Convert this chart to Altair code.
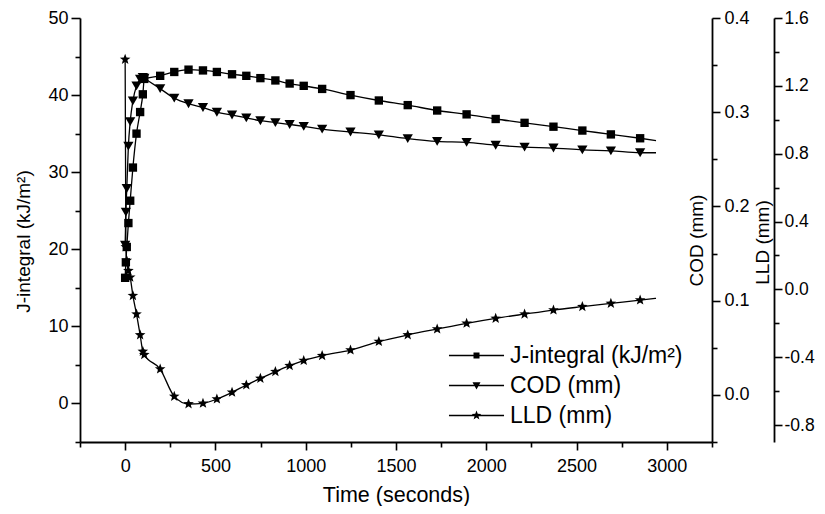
import math
import altair as alt
import pandas as pd

# ---------------- data ----------------
time_s = [0, 4, 9, 18, 28, 43, 63, 83, 98, 106, 194, 272, 351, 431, 508, 592, 671,
          749, 832, 911, 989, 1091, 1248, 1405, 1565, 1728, 1891, 2052, 2212,
          2372, 2532, 2690, 2852, 2940]
j_integral = [16.3, 18.3, 20.3, 23.4, 26.3, 30.6, 35.0, 37.8, 40.1, 42.1, 42.5,
              43.0, 43.3, 43.2, 43.0, 42.7, 42.5, 42.2, 41.9, 41.5, 41.2, 40.8,
              40.0, 39.3, 38.7, 38.0, 37.5, 36.9, 36.4, 35.9, 35.4, 34.9, 34.4, 34.1]
cod_mm = [0.159, 0.194, 0.219, 0.264, 0.290, 0.312, 0.328, 0.335, 0.337, 0.336,
          0.325, 0.315, 0.309, 0.305, 0.300, 0.297, 0.294, 0.291, 0.289, 0.287,
          0.285, 0.282, 0.279, 0.276, 0.272, 0.269, 0.268, 0.265, 0.263, 0.262,
          0.260, 0.259, 0.257, 0.257]
lld_mm = [1.356, 0.25, 0.17, 0.11, 0.071, -0.037, -0.146, -0.269, -0.366, -0.385,
          -0.470, -0.631, -0.676, -0.672, -0.647, -0.607, -0.564, -0.525, -0.485,
          -0.450, -0.420, -0.391, -0.358, -0.308, -0.269, -0.234, -0.200, -0.171,
          -0.146, -0.122, -0.102, -0.083, -0.063, -0.053]
series_names = ["J-integral (kJ/m²)", "COD (mm)", "LLD (mm)"]

x_ticks = [-250, 0, 250, 500, 750, 1000, 1250, 1500, 1750, 2000, 2250, 2500,
           2750, 3000, 3250]
j_ticks = [-5, 0, 5, 10, 15, 20, 25, 30, 35, 40, 45, 50]
cod_ticks = [-0.05, 0.0, 0.05, 0.1, 0.15, 0.2, 0.25, 0.3, 0.35, 0.4]
lld_ticks = [-0.8, -0.6, -0.4, -0.2, 0.0, 0.2, 0.4, 0.6, 0.8, 1.0, 1.2, 1.4, 1.6]

# ---------------- styling helpers ----------------
FONT = "Liberation Sans"


def star_path(ro, ri, prefix=""):
    pts = []
    for k in range(10):
        a = -math.pi / 2 + k * math.pi / 5
        r = ro if k % 2 == 0 else ri
        pts.append(f"{r * math.cos(a):.3f},{r * math.sin(a):.3f}")
    return prefix + "M" + "L".join(pts) + "Z"


STAR = star_path(1.0, 0.42)
LINE = "M-3.44,-0.09H3.44V0.09H-3.44Z"
legend_shapes = [
    LINE + "M-0.375,-0.375H0.375V0.375H-0.375Z",
    LINE + "M-0.5,-0.42L0.5,-0.42L0,0.5Z",
    star_path(0.62, 0.26, LINE),
]

df = pd.DataFrame({"t": time_s, "J": j_integral, "COD": cod_mm, "LLD": lld_mm})
df["idx"] = range(len(df))
last_idx = len(df) - 1

tick_common = dict(domainColor="black", domainWidth=1.8, tickColor="black",
                   tickWidth=1.6, labelFont=FONT, labelFontSize=18,
                   labelColor="black", titleFont=FONT, titleColor="black",
                   titleFontWeight="normal", grid=False)

x_enc = alt.X(
    "t:Q",
    scale=alt.Scale(domain=[-250, 3250], nice=False, zero=False),
    axis=alt.Axis(
        values=x_ticks,
        tickSize={"condition": {"test": "datum.value % 500 === 0", "value": 8}, "value": 5},
        labelExpr="datum.value % 500 === 0 ? datum.label : ''",
        format="d", labelPadding=7,
        title="Time (seconds)", titleFontSize=21.5, titleY=53, titleBaseline="middle",
        **tick_common,
    ),
)

j_axis = alt.Axis(
    values=j_ticks, orient="left",
    tickSize={"condition": {"test": "datum.value % 10 === 0", "value": 9}, "value": 5},
    labelExpr="datum.value % 10 === 0 ? datum.label : ''",
    format="d", labelPadding=3,
    title="J-integral (kJ/m²)", titleFontSize=19, titleAngle=270,
    titleX=-57, titleY=223, titleBaseline="middle", titleAlign="center",
    **tick_common,
)
cod_axis = alt.Axis(
    values=cod_ticks, orient="right",
    tickSize={"condition": {"test": "abs(datum.value*10 - round(datum.value*10)) < 1e-6",
                            "value": 8}, "value": 5},
    labelExpr="abs(datum.value*10 - round(datum.value*10)) < 1e-6 ? format(datum.value, '.1f') : ''",
    labelPadding=4,
    title="COD (mm)", titleFontSize=19, titleAngle=270,
    titleX=-16, titleY=222, titleBaseline="middle", titleAlign="center",
    **tick_common,
)
lld_axis = alt.Axis(
    values=lld_ticks, orient="right", offset=62,
    tickSize={"condition": {"test": "abs(datum.value/0.4 - round(datum.value/0.4)) < 1e-6",
                            "value": 8}, "value": 5},
    labelExpr="abs(datum.value/0.4 - round(datum.value/0.4)) < 1e-6 ? "
              "replace(format(datum.value, '.1f'), '−', '-') : ''",
    labelPadding=2,
    title="LLD (mm)", titleFontSize=19, titleAngle=270,
    titleX=-12, titleY=224, titleBaseline="middle", titleAlign="center",
    **{**tick_common, "labelFontSize": 17.5},
)


def series_layer(field, domain, axis, shape, size):
    y = alt.Y(f"{field}:Q", scale=alt.Scale(domain=domain, nice=False, zero=False), axis=axis)
    line = alt.Chart(df).mark_line(color="black", strokeWidth=1.3,
                                   interpolate="monotone").encode(x=x_enc, y=y)
    pts = alt.Chart(df).mark_point(shape=shape, filled=True, color="black",
                                   opacity=1, size=size).encode(x=x_enc, y=y).transform_filter(
        f"datum.idx < {last_idx}")
    return alt.layer(line, pts)


j_layer = series_layer("J", [-5, 50], j_axis, "square", 70)
cod_layer = series_layer("COD", [-0.05, 0.4], cod_axis, "triangle-down", 105)
lld_layer = series_layer("LLD", [-0.9, 1.6], lld_axis, STAR, 125)

legend_layer = alt.Chart(pd.DataFrame({"series": series_names})).mark_point(
    filled=True, color="black", opacity=0
).encode(
    shape=alt.Shape(
        "series:N",
        scale=alt.Scale(domain=series_names, range=legend_shapes),
        legend=alt.Legend(
            title=None, orient="none", legendX=385, legendY=326,
            symbolSize=256, symbolFillColor="black", symbolStrokeColor="black",
            symbolStrokeWidth=0, symbolOpacity=1,
            labelFont=FONT, labelFontSize=23, labelColor="black",
            labelOffset=22, rowPadding=6, padding=0, labelLimit=400,
        ),
    )
)

chart = alt.layer(j_layer, cod_layer, lld_layer, legend_layer).resolve_scale(
    y="independent"
).properties(
    width=632, height=424,
    autosize=alt.AutoSizeParams(type="none"),
    padding={"left": 72, "top": 10, "right": 105, "bottom": 64},
    background="white",
).configure_view(strokeWidth=0)

chart.save("out.html", embed_options={"renderer": "svg", "actions": False})
